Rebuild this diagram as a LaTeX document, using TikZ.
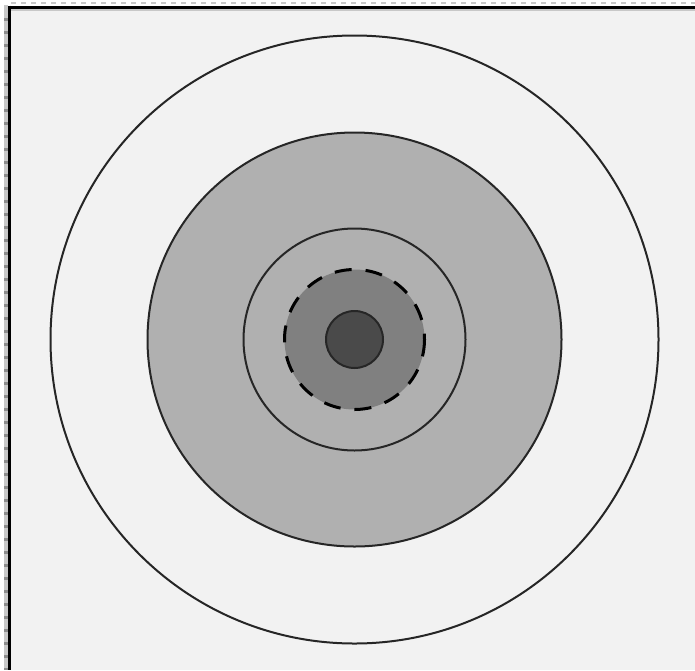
\documentclass[tikz,border=0pt]{standalone}
\usepackage{xcolor}
\usepackage{tikz}

\definecolor{paper}{HTML}{F2F2F2}
\definecolor{ringlight}{HTML}{B0B0B0}
\definecolor{ringmid}{HTML}{808080}
\definecolor{ringdark}{HTML}{4A4A4A}
\definecolor{edge}{HTML}{C8C8C8}

\begin{document}
\begin{tikzpicture}[x=1pt, y=-1pt,
    ring/.style={draw=black!85, line width=2pt},
    core/.style={draw=black, line width=3pt, dash pattern=on 17pt off 14pt}]
    \useasboundingbox (0,0) rectangle (695,670);
    \fill[white] (0,0) rectangle (695,670);
    \fill[paper] (11,9) rectangle (695,670);

    % frame of the window
    \draw[edge, line width=2pt, dash pattern=on 5pt off 5pt] (11,3) -- (695,3);
    \draw[edge, line width=4pt] (6,5) -- (6,670);
    \draw[black!45, line width=4pt, dash pattern=on 2.5pt off 10.5pt] (6,18) -- (6,670);
    \draw[black, line width=3pt] (8,7) -- (695,7);
    \draw[black, line width=3pt] (9.5,5.5) -- (9.5,670);
    \draw[edge, line width=2pt] (11,10) -- (695,10);

    \coordinate (c) at (354.5,339.5);
    \draw[ring] (c) circle (304);
    \draw[ring, fill=ringlight] (c) circle (207);
    \draw[ring] (c) circle (111);
    \fill[ringmid] (c) circle (70);
    \draw[core] (c) circle (70);
    \draw[ring, fill=ringdark] (c) circle (28.5);
\end{tikzpicture}
\end{document}
